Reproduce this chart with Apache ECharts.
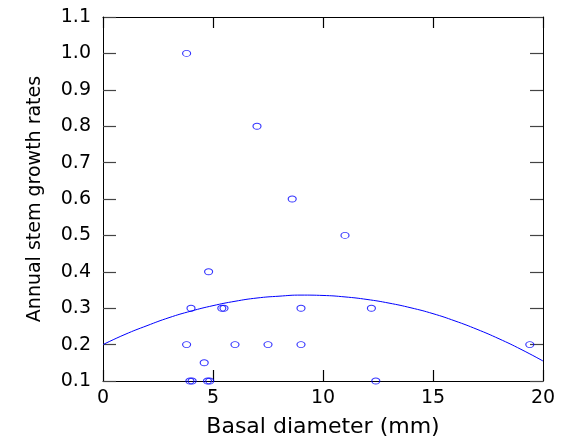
<!DOCTYPE html>
<html>
<head>
<meta charset="utf-8">
<script src="https://cdn.jsdelivr.net/npm/echarts@6/dist/echarts.min.js"></script>
<style>
html,body{margin:0;padding:0;background:#fff;}
#c{width:567px;height:439px;}
</style>
</head>
<body>
<div id="c"></div>
<script>
// Scatter observations: basal diameter (mm) and annual stem growth rate
const diameters = [3.8, 7.0, 8.6, 11.0, 4.8, 4.0, 5.4, 5.5, 9.0, 12.2, 3.8, 6.0, 7.5, 9.0, 19.4, 4.6, 3.95, 4.05, 4.75, 4.85, 12.4];
const growthRates = [1.0, 0.8, 0.6, 0.5, 0.4, 0.3, 0.3, 0.3, 0.3, 0.3, 0.2, 0.2, 0.2, 0.2, 0.2, 0.15, 0.1, 0.1, 0.1, 0.1, 0.1];

// Fitted curve
const curveX = [0, 1, 2, 3, 4, 5, 6, 7, 8, 9, 10, 11, 12, 13, 14, 15, 16, 17, 18, 19, 20];
const curveY = [0.200, 0.228, 0.252, 0.274, 0.292, 0.307, 0.319, 0.328, 0.333, 0.336, 0.335, 0.331, 0.324, 0.314, 0.301, 0.285, 0.265, 0.242, 0.216, 0.187, 0.155];

// Tick labels
const xTicks = [0, 5, 10, 15, 20];
const yTicks = ['0.1', '0.2', '0.3', '0.4', '0.5', '0.6', '0.7', '0.8', '0.9', '1.0', '1.1'];

const xTitle = 'Basal diameter (mm)';
const yTitle = 'Annual stem growth rates';

const FONT = 'DejaVu Sans';
const scatterData = diameters.map((d, i) => [d, growthRates[i]]);
const curveData = curveX.map((x, i) => [x, curveY[i]]);

const yMin = parseFloat(yTicks[0]);
const yMax = parseFloat(yTicks[yTicks.length - 1]);
const yInt = 0.1;
const xMin = xTicks[0], xMax = xTicks[xTicks.length - 1], xInt = xTicks[1] - xTicks[0];

const chart = echarts.init(document.getElementById('c'), null, {renderer: 'canvas'});
chart.setOption({
  backgroundColor: '#ffffff',
  animation: false,
  grid: {left: 103, right: 24, top: 17, bottom: 58, containLabel: false, outerBoundsMode: 'none'},
  xAxis: [
    {
      type: 'value', position: 'bottom', min: xMin, max: xMax, interval: xInt,
      name: xTitle, nameLocation: 'middle', nameGap: 35,
      nameTextStyle: {fontFamily: FONT, fontSize: 22, color: '#000'},
      axisLine: {show: true, onZero: false, lineStyle: {color: '#000', width: 1}},
      axisTick: {show: true, inside: true, length: 11, lineStyle: {color: '#000', width: 1.2}},
      axisLabel: {fontFamily: FONT, fontSize: 19, color: '#000', margin: 8, showMinLabel: true, showMaxLabel: true},
      splitLine: {show: false}
    },
    {
      type: 'value', position: 'top', min: xMin, max: xMax, interval: xInt,
      axisLine: {show: true, onZero: false, lineStyle: {color: '#000', width: 1}},
      axisTick: {show: true, inside: true, length: 11, lineStyle: {color: '#000', width: 1.2}},
      axisLabel: {show: false},
      splitLine: {show: false}
    }
  ],
  yAxis: [
    {
      type: 'value', position: 'left', min: yMin, max: yMax, interval: yInt,
      name: yTitle, nameLocation: 'middle', nameGap: 58,
      nameTextStyle: {fontFamily: FONT, fontSize: 19, color: '#000'},
      axisLine: {show: true, onZero: false, lineStyle: {color: '#000', width: 1}},
      axisTick: {show: true, inside: true, length: 13, lineStyle: {color: '#444', width: 1.2}},
      axisLabel: {fontFamily: FONT, fontSize: 19, color: '#000', margin: 12, showMinLabel: true, showMaxLabel: true,
        formatter: v => v.toFixed(1)},
      splitLine: {show: false}
    },
    {
      type: 'value', position: 'right', min: yMin, max: yMax, interval: yInt,
      axisLine: {show: true, onZero: false, lineStyle: {color: '#000', width: 1}},
      axisTick: {show: true, inside: true, length: 13, lineStyle: {color: '#444', width: 1.2}},
      axisLabel: {show: false},
      splitLine: {show: false}
    }
  ],
  series: [
    {
      type: 'line', data: curveData, xAxisIndex: 0, yAxisIndex: 0,
      smooth: true, showSymbol: false, symbol: 'none',
      lineStyle: {color: '#0000ff', width: 1}, z: 3
    },
    {
      type: 'scatter', data: scatterData, xAxisIndex: 0, yAxisIndex: 0,
      symbol: 'circle', symbolSize: [8, 6], clip: false,
      itemStyle: {color: 'rgba(0,0,0,0)', borderColor: '#0000ff', borderWidth: 1},
      z: 4
    }
  ]
});
</script>
</body>
</html>
